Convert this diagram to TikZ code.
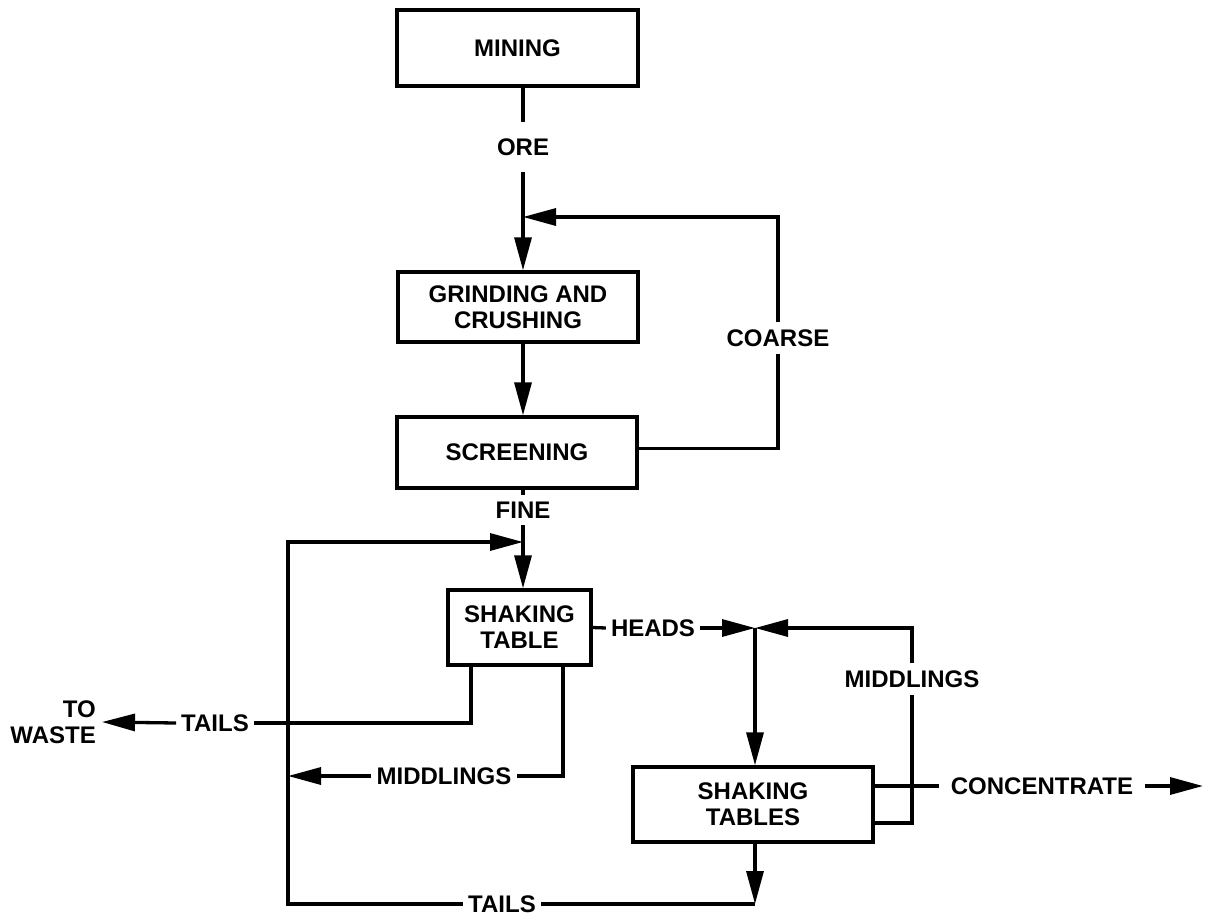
\documentclass[tikz,border=0pt]{standalone}
\usepackage{fontspec}
\setmainfont{Liberation Sans}
\usetikzlibrary{arrows.meta}
\begin{document}
\begin{tikzpicture}[x=1pt,y=-1pt,
  every node/.style={font=\fontsize{24}{26}\selectfont\bfseries},
  box/.style={draw, line width=3.3pt, align=center, inner sep=0pt},
  flow/.style={line width=3.3pt},
  arr/.style={flow, -{Triangle[length=33pt,width=17pt]}},
  hlabel/.style={inner xsep=5pt, inner ysep=2pt},
  vlabel/.style={inner xsep=2pt, inner ysep=7pt},
]
\useasboundingbox (0,0) rectangle (1212,915);

% process boxes
\node[box, minimum width=241pt, minimum height=76pt] (mining) at (517.5,48) {MINING};
\node[box, minimum width=240pt, minimum height=70pt] (grind) at (518,307) {GRINDING AND\\CRUSHING};
\node[box, minimum width=240pt, minimum height=71pt] (screen) at (517,452.5) {SCREENING};
\node[box, minimum width=143pt, minimum height=75pt] (st1) at (519.5,627.5) {SHAKING\\TABLE};
\node[box, minimum width=240pt, minimum height=75pt] (st2) at (753,804.5) {SHAKING\\TABLES};

% junctions and free ends
\coordinate (j1) at (523,217);
\coordinate (j2) at (523,542);
\coordinate (j3) at (755,628);
\coordinate (j4) at (755,904);
\coordinate (tl) at (288,542);
\coordinate (out) at (1203,786);

% stream labels
\node[vlabel, inner ysep=16pt] (ore) at (523,147) {ORE};
\node[vlabel] (coarse) at (778,338) {COARSE};
\node[vlabel] (fine) at (523,510) {FINE};
\node[vlabel] (mid2) at (912,679) {MIDDLINGS};
\node[hlabel] (heads) at (653,628) {HEADS};
\node[hlabel] (tails1) at (215,723) {TAILS};
\node[hlabel] (mid1) at (444,776) {MIDDLINGS};
\node[hlabel] (tails2) at (502,904) {TAILS};
\node[hlabel, inner xsep=12pt] (conc) at (1042,786) {CONCENTRATE};
\node[hlabel, anchor=east, align=right, inner xsep=6pt] (waste) at (102,722) {TO\\WASTE};

% main line: mining to screening
\draw[flow] (ore |- mining.south) -- (ore.north);
\draw[arr] (ore.south) -- (ore |- grind.north);
\draw[arr] (ore |- grind.south) -- (ore |- screen.north);

% coarse recycle
\draw[flow] ([yshift=4pt]screen.east) -| (coarse.south);
\draw[arr] (coarse.north) |- (j1);

% fine to the first table
\draw[flow] (fine |- screen.south) -- (fine.north);
\draw[arr] (fine.south) -- (fine |- st1.north);

% heads to the cleaner tables
\draw[flow] (st1.east) -- (heads.west);
\draw[arr] (heads.east) -- (j3);
\draw[arr] (j3) -- (j3 |- st2.north);

% cleaner middlings recycle and concentrate
\draw[flow] ([yshift=-18.5pt]st2.east) -| (mid2.south);
\draw[arr] (mid2.north) |- (j3);
\draw[flow] ([yshift=18.5pt]st2.east) -- (conc.west);
\draw[arr] (conc.east) -- (out);

% cleaner tails back to the first table
\draw[arr] (j3 |- st2.south) -- (j4);
\draw[flow] (j4) -- (tails2.east);
\draw[arr] (tails2.west) -| (tl) -- (j2);

% first table tails and middlings
\draw[flow] ([xshift=-48.5pt]st1.south) |- (tails1.east);
\draw[arr] (tails1.west) -- (waste.east);
\draw[flow] ([xshift=43.5pt]st1.south) |- (mid1.east);
\draw[arr] (mid1.west) -- (mid1.west -| tl);
\end{tikzpicture}
\end{document}
